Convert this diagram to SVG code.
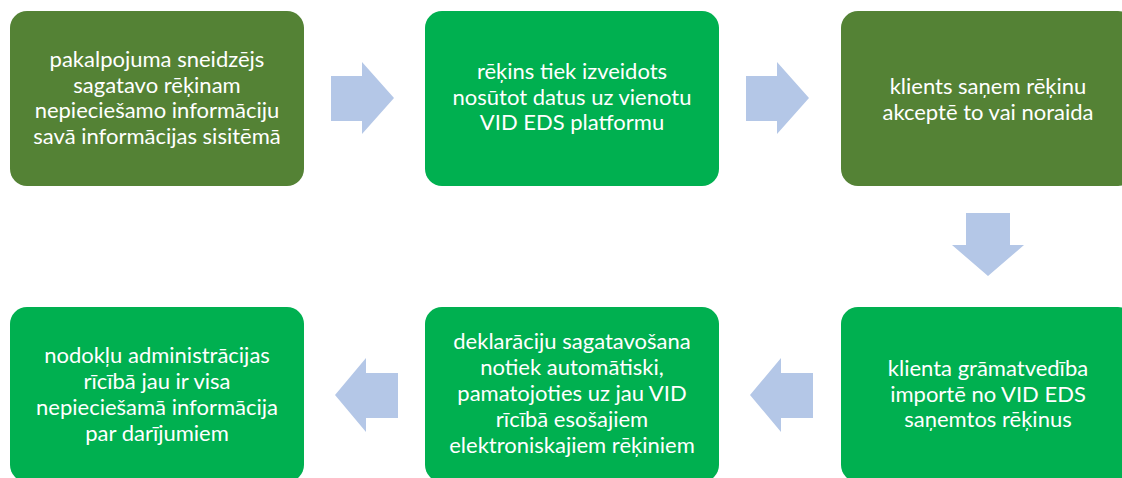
<svg xmlns="http://www.w3.org/2000/svg" width="1122" height="478" viewBox="0 0 1122 478">
<style>
.dark{fill:#548235}
.bright{fill:#00B050}
.arrow{fill:#B4C7E7}
text{font-family:Lato,"Open Sans","Liberation Sans",sans-serif;font-size:22px;fill:#FFFFFF;text-anchor:middle}
</style>
<rect width="1122" height="478" fill="#FFFFFF"/>
<g id="connectors">
<polygon class="arrow" points="331,76 362,76 362,62 394,98 362,134 362,121 331,121"/>
<polygon class="arrow" points="746,76 777,76 777,62 809,98 777,134 777,121 746,121"/>
<polygon class="arrow" points="966,213 1010,213 1010,245 1024,245 988,276 952,245 966,245"/>
<polygon class="arrow" points="813,373 781,373 781,358 750,395 781,432 781,418 813,418"/>
<polygon class="arrow" points="398,373 366,373 366,358 335,395 366,432 366,418 398,418"/>
</g>
<g id="node1">
<rect class="dark" x="10" y="11" width="294" height="175" rx="17"/>
<text x="157" y="67">pakalpojuma sneidzējs</text>
<text x="157" y="92.5">sagatavo rēķinam</text>
<text x="157" y="118">nepieciešamo informāciju</text>
<text x="157" y="143.5">savā informācijas sisitēmā</text>
</g>
<g id="node2">
<rect class="bright" x="425" y="11" width="294" height="175" rx="17"/>
<text x="572" y="79">rēķins tiek izveidots</text>
<text x="572" y="104.5">nosūtot datus uz vienotu</text>
<text x="572" y="130">VID EDS platformu</text>
</g>
<g id="node3">
<rect class="dark" x="841" y="11" width="294" height="175" rx="17"/>
<text x="988" y="94">klients saņem rēķinu</text>
<text x="988" y="119.5">akceptē to vai noraida</text>
</g>
<g id="node6">
<rect class="bright" x="841" y="307" width="294" height="175" rx="17"/>
<text x="988" y="376">klienta grāmatvedība</text>
<text x="988" y="401.5">importē no VID EDS</text>
<text x="988" y="427">saņemtos rēķinus</text>
</g>
<g id="node5">
<rect class="bright" x="425" y="307" width="294" height="175" rx="17"/>
<text x="572" y="349">deklarāciju sagatavošana</text>
<text x="572" y="375">notiek automātiski,</text>
<text x="572" y="401">pamatojoties uz jau VID</text>
<text x="572" y="427">rīcībā esošajiem</text>
<text x="572" y="453">elektroniskajiem rēķiniem</text>
</g>
<g id="node4">
<rect class="bright" x="10" y="307" width="294" height="175" rx="17"/>
<text x="157" y="363">nodokļu administrācijas</text>
<text x="157" y="389">rīcībā jau ir visa</text>
<text x="157" y="414.5">nepieciešamā informācija</text>
<text x="157" y="440.5">par darījumiem</text>
</g>
</svg>
